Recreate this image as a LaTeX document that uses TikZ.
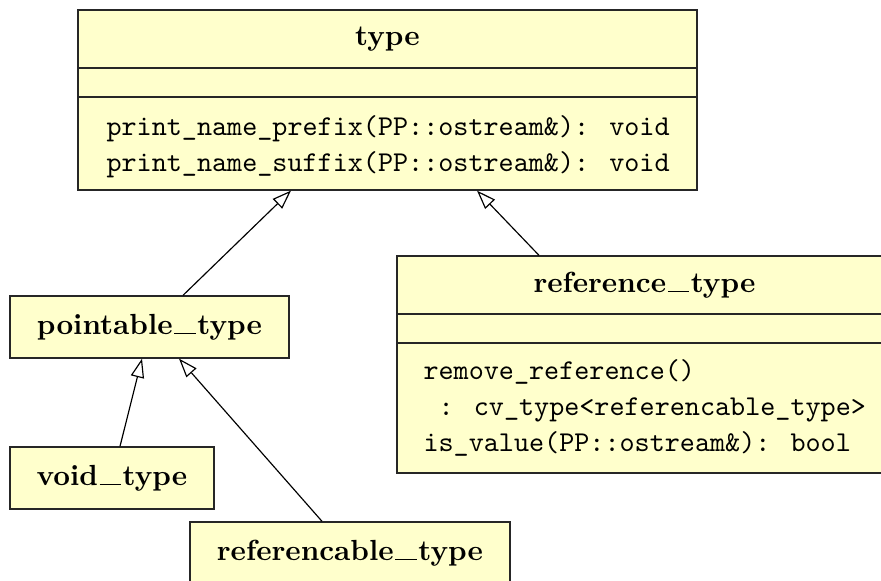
\documentclass[tikz,border=0pt]{standalone}
\usepackage{fontspec}
\usetikzlibrary{arrows.meta}
\definecolor{classfill}{HTML}{FFFFCC}
\definecolor{classline}{HTML}{262626}
% one drawing unit is one pixel of the final image
\newcommand{\pxu}{0.3436pt}
% long bold underscore used in class names
\newcommand{\ubar}{\kern0.6pt\rule{7.3pt}{0.45pt}\kern0.6pt}
\tikzset{
  classbox/.style={draw=classline, fill=classfill, line width=0.45pt, rectangle, inner sep=0pt},
  classname/.style={font=\fontsize{10pt}{12pt}\selectfont\bfseries, inner sep=0pt},
  members/.style={font=\fontsize{9.87pt}{12.45pt}\selectfont\ttfamily, align=left, anchor=west, inner sep=0pt},
  divider/.style={draw=classline, line width=0.45pt},
  inherits/.style={draw=black, line width=0.4pt, -{Triangle[open, length=6.5pt, width=4.6pt, fill=white]}}
}
\begin{document}
\begin{tikzpicture}[x=\pxu, y=-\pxu]
\useasboundingbox (0,0) rectangle (881,581);
\clip (0,0) rectangle (881,581);

% class: type
\node[classbox, minimum width=619*\pxu, minimum height=180*\pxu] (type) at (387.5,100) {};
\node[classname] (typeName) at (387.5,39) {type};
\draw[divider] (type.west |- 0,68) -- (type.east |- 0,68);
\draw[divider] (type.west |- 0,97) -- (type.east |- 0,97);
\node[members] (typeOps) at (106,146.5) {print\_name\_prefix(PP::ostream\&): void\\print\_name\_suffix(PP::ostream\&): void};

% class: reference_type
\node[classbox, minimum width=495*\pxu, minimum height=217*\pxu] (ref) at (644.5,364.5) {};
\node[classname] (refName) at (644.5,285) {reference\ubar type};
\draw[divider] (ref.west |- 0,314) -- (ref.east |- 0,314);
\draw[divider] (ref.west |- 0,343) -- (ref.east |- 0,343);
\node[members] (refOps) at (423,408) {remove\_reference()\\\ : cv\_type<referencable\_type>\\is\_value(PP::ostream\&): bool};

% class: pointable_type
\node[classbox, minimum width=279*\pxu, minimum height=62*\pxu] (ptr) at (149.5,327) {};
\node[classname] (ptrName) at (149.5,327) {pointable\ubar type};

% class: void_type
\node[classbox, minimum width=204*\pxu, minimum height=62*\pxu] (void) at (112,478) {};
\node[classname] (voidName) at (112,478) {void\ubar type};

% class: referencable_type
\node[classbox, minimum width=320*\pxu, minimum height=62*\pxu] (refc) at (350,553) {};
\node[classname] (refcName) at (350,553) {referencable\ubar type};

% generalisation arrows
\draw[inherits] ([xshift=33.5*\pxu]ptr.north) -- ([xshift=-96.5*\pxu]type.south);
\draw[inherits] ([xshift=-105.5*\pxu]ref.north) -- ([xshift=89.5*\pxu]type.south);
\draw[inherits] ([xshift=8*\pxu]void.north) -- ([xshift=-7.5*\pxu]ptr.south);
\draw[inherits] ([xshift=-28*\pxu]refc.north) -- ([xshift=29.5*\pxu]ptr.south);
\end{tikzpicture}
\end{document}
